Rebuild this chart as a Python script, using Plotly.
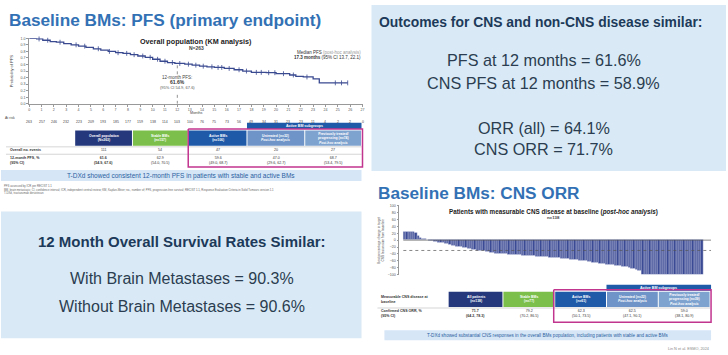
import bisect
import plotly.graph_objects as go

W, H = 728, 355
F = "Liberation Sans, Arial, sans-serif"


def X(px):
    return px / W


def Y(py):
    return 1 - py / H


# ---------------- data ----------------
# Kaplan-Meier PFS (overall population)
km_months = [0, 0.6, 1.1, 1.7, 2.2, 2.8, 3.4, 4.0, 4.6, 5.2, 5.8, 6.4, 7.0, 7.6, 8.2, 8.8, 9.4,
             10.0, 10.6, 11.2, 11.8, 12.6, 13.2, 13.8, 14.4, 15.0, 15.8, 16.6, 17.3, 18.0,
             19.2, 20.0, 21.1, 21.6, 22.2, 23.0, 23.5, 25.8]
km_surv = [1.0, 0.99, 0.97, 0.95, 0.94, 0.92, 0.90, 0.88, 0.86, 0.84, 0.82, 0.80, 0.78, 0.77,
           0.75, 0.73, 0.71, 0.68, 0.65, 0.63, 0.616, 0.605, 0.59, 0.575, 0.565, 0.555, 0.54,
           0.52, 0.50, 0.48, 0.475, 0.46, 0.44, 0.42, 0.41, 0.38, 0.32, 0.32]
censor_months = [0.8, 1.5, 2.5, 3.8, 4.5, 5.6, 6.5, 7.2, 7.9, 8.5, 9.2, 9.8, 10.4, 11.0, 11.6,
                 12.2, 12.9, 13.5, 14.1, 14.8, 15.3, 15.6, 16.2, 17.0, 17.6, 18.4, 18.8, 19.4,
                 19.9, 20.6, 21.4, 22.5, 24.8, 25.3, 25.8]
month_ticks = list(range(0, 28))
at_risk = [263, 257, 246, 232, 223, 209, 193, 185, 177, 159, 138, 114, 103, 100, 76, 75, 73,
           56, 49, 34, 31, 23, 23, 11, 4, 2, 2, 0]

# Waterfall: best % change in target CNS lesion size
cns_change = [26, 25, 25, 24, 24, 23,
              12, 8,
              4, 3, 2,
              -2, -3, -4, -5, -6, -7, -8, -9, -10,
              -13, -15, -16, -18, -19, -20, -22, -23, -24, -25,
              -27, -28, -30, -30, -31, -32, -33, -34, -35,
              -37, -38, -38, -39, -40, -40, -40, -41, -41, -42, -42, -43, -43,
              -44, -44, -45, -45, -46, -46, -47, -47, -48, -48, -49, -49, -50, -50, -50, -51,
              -52, -53, -54, -55, -55, -56, -57, -58, -58, -59, -60, -60, -61,
              -62, -63, -64, -65, -66, -67, -68, -69, -70, -70, -71, -72, -73, -74, -75, -76, -77, -78,
              -80, -82, -84, -86, -88, -90,
              -100, -100, -100, -100, -100, -100, -100, -100, -100, -100, -100, -100, -100, -100,
              -100, -100, -100, -100, -100, -100, -100, -100, -100, -100, -100, -100, -100]

# Tables
pfs_groups = ["Overall population<br>(N=263)", "Stable BMs<br>(n=157)", "Active BMs<br>(n=106)",
              "Untreated (n=32)<br><i>Post-hoc analysis</i>",
              "Previously treated/<br>progressing (n=74)<br><i>Post-hoc analysis</i>"]
pfs_events = ["111", "54", "47", "20", "27"]
pfs_12m = ["61.6<br>(54.9, 67.6)", "62.9<br>(54.0, 70.5)", "59.6<br>(49.0, 68.7)",
           "47.0<br>(29.6, 62.7)", "68.7<br>(53.4, 79.5)"]
orr_groups = ["All patients<br>(n=138)", "Stable BMs<br>(n=77)", "Active BMs<br>(n=61)",
              "Untreated (n=22)<br><i>Post-hoc analysis</i>",
              "Previously treated/<br>progressing (n=39)<br><i>Post-hoc analysis</i>"]
orr_values = ["71.7<br>(64.2, 78.3)", "79.2<br>(70.2, 86.5)", "62.3<br>(50.1, 73.5)",
              "62.5<br>(47.1, 90.1)", "59.0<br>(38.1, 80.9)"]
group_colors = ["#25387c", "#7cbf4a", "#1f5aa8", "#6f95c8", "#7fa3cf"]

outcome_lines = ["PFS at 12 months = 61.6%", "CNS PFS at 12 months = 58.9%",
                 "ORR (all) = 64.1%", "CNS ORR = 71.7%"]
os_lines = ["With Brain Metastases = 90.3%", "Without Brain Metastases = 90.6%"]

# ---------------- figure ----------------
fig = go.Figure()
ann = []


def rect(x0, y0, x1, y1, fill):
    # filled panel drawn on a full-page pixel axis (x3/y3)
    fig.add_trace(go.Scatter(x=[x0, x1, x1, x0, x0], y=[y0, y0, y1, y1, y0], mode="lines",
                             fill="toself", fillcolor=fill, line=dict(width=0, color=fill),
                             xaxis="x3", yaxis="y3", hoverinfo="skip"))


def frame(x0, y0, x1, y1, color, lw):
    fig.add_trace(go.Scatter(x=[x0, x1, x1, x0, x0], y=[y0, y0, y1, y1, y0], mode="lines",
                             line=dict(width=lw, color=color), xaxis="x3", yaxis="y3",
                             hoverinfo="skip", cliponaxis=False))


def hline(x0, x1, y, color="#bbbbbb", w=0.6):
    fig.add_trace(go.Scatter(x=[x0, x1], y=[y, y], mode="lines", line=dict(width=w, color=color),
                             xaxis="x3", yaxis="y3", hoverinfo="skip"))


def txt(px, py, s, size, color="#333333", xa="center", ya="middle", angle=0):
    ann.append(dict(x=X(px), y=Y(py), xref="paper", yref="paper", text=s, showarrow=False,
                    font=dict(size=size, color=color, family=F), xanchor=xa, yanchor=ya,
                    textangle=angle, borderpad=0, align="center" if xa == "center" else xa))


# background boxes
rect(372, 3, 728, 171, "#d9eaf6")
rect(0, 212, 362, 340, "#d9eaf6")

# titles
txt(7, 18, "<b>Baseline BMs: PFS (primary endpoint)</b>", 17.2, "#3371b5", xa="left")
txt(378, 193, "<b>Baseline BMs: CNS ORR</b>", 17.2, "#3371b5", xa="left")

# right-top box text
txt(379, 20, "<b>Outcomes for CNS and non-CNS disease similar:</b>", 13.9, "#1d3a5a", xa="left")
for line, py in zip(outcome_lines, [59, 82, 127, 149]):
    txt(545, py, line, 16.2, "#2b3d50")

# bottom-left box text
txt(182, 242, "<b>12 Month Overall Survival Rates Similar:</b>", 15, "#1d3a5a")
for line, py in zip(os_lines, [280, 308]):
    txt(182, py, line, 16, "#2b3d50")

# ---------- KM plot ----------
fig.add_trace(go.Scatter(x=km_months, y=km_surv, mode="lines", line=dict(shape="hv", color="#3a4a90", width=1.3),
                         xaxis="x", yaxis="y", cliponaxis=False, hoverinfo="skip"))


def surv_at(t):
    i = bisect.bisect_right(km_months, t) - 1
    return km_surv[max(i, 0)]


fig.add_trace(go.Scatter(x=censor_months, y=[surv_at(t) for t in censor_months], mode="markers",
                         marker=dict(symbol="line-ns-open", size=3.5, color="#3a4a90", line=dict(width=0.8, color="#3a4a90")),
                         xaxis="x", yaxis="y", cliponaxis=False, hoverinfo="skip"))

# 12-month dotted marker
for y_pair in ([0.45, surv_at(12)], [0.0, 0.17]):
    fig.add_trace(go.Scatter(x=[12, 12], y=y_pair, mode="lines", line=dict(color="#666666", width=0.7, dash="dot"),
                             xaxis="x", yaxis="y", hoverinfo="skip"))
txt(177, 76, "12-month PFS:", 4.5, "#444444")
txt(177, 81, "<b>61.6%</b>", 5, "#333333")
txt(177, 86, "(95% CI 54.9, 67.6)", 4, "#555555")

txt(196, 40, "<b>Overall population (KM analysis)</b>", 7.2, "#222222")
txt(196, 47, "<b>N=263</b>", 5, "#444444")
txt(362, 51, "Median PFS <span style='color:#999999'>(post-hoc analysis)</span>", 4.5, "#333333", xa="right")
txt(362, 56, "<b>17.3 months</b> (95% CI 13.7, 22.1)", 4.5, "#333333", xa="right")
txt(10, 70, "Probability of PFS", 4, "#444444", angle=-90)
txt(196, 112, "Months", 3.8, "#444444")
txt(3, 117, "At risk", 3.5, "#444444", xa="left")
for m, n in zip(month_ticks, at_risk):
    ann.append(dict(x=m, y=Y(117), xref="x", yref="paper", text=str(n), showarrow=False,
                    font=dict(size=3.5, color="#444444", family=F)))

# ---------- PFS table ----------
cols = [74, 132, 188, 247, 305, 362]
rect(247, 122, 362, 128.5, "#1f5aa8")
txt(304.5, 125.3, "<b>Active BM subgroups</b>", 3.6, "white")
for i, (g, c) in enumerate(zip(pfs_groups, group_colors)):
    rect(cols[i] + 0.5, 130, cols[i + 1] - 0.5, 145.5, c)
    txt((cols[i] + cols[i + 1]) / 2, 137.8, "<b>" + g + "</b>", 3.4, "white")
    txt((cols[i] + cols[i + 1]) / 2, 150, pfs_events[i], 3.6, "#333333")
    v = "<b>" + pfs_12m[i] + "</b>" if i == 0 else pfs_12m[i]
    txt((cols[i] + cols[i + 1]) / 2, 160, v, 3.6, "#333333")
hline(5, 362, 146.5)
hline(5, 362, 154)
txt(8, 150, "<b>Overall no. events</b>", 3.6, "#333333", xa="left")
txt(8, 160, "<b>12-month PFS, %<br>(95% CI)</b>", 3.6, "#333333", xa="left")
frame(188, 128.5, 363, 167, "#c2358f", 1.5)
rect(0, 170, 362, 181, "#d6e6f7")
txt(181, 175.5, "T-DXd showed consistent 12-month PFS in patients with stable and active BMs", 6.5, "#2b5fa0")
txt(2, 186.5, "PFS assessed by ICR per RECIST 1.1", 2.8, "#666666", xa="left")
txt(2, 190, "BM, brain metastasis; CI, confidence interval; ICR, independent central review; KM, Kaplan-Meier; no., number of; "
    "PFS, progression-free survival; RECIST 1.1, Response Evaluation Criteria in Solid Tumours version 1.1", 2.8, "#666666", xa="left")
txt(2, 193.5, "T-DXd, trastuzumab deruxtecan", 2.8, "#666666", xa="left")

# ---------- waterfall ----------
fig.add_trace(go.Bar(x=list(range(len(cns_change))), y=cns_change, xaxis="x2", yaxis="y2",
                     marker=dict(color="#3b4a94", line=dict(color="#e6e8f2", width=0.35)),
                     hoverinfo="skip"))
n_bars = len(cns_change)
fig.add_trace(go.Scatter(x=[-0.5, n_bars + 3], y=[0, 0], mode="lines", line=dict(color="#555555", width=0.7),
                         xaxis="x2", yaxis="y2", hoverinfo="skip"))
fig.add_trace(go.Scatter(x=[-0.5, n_bars + 3], y=[-30, -30], mode="lines",
                         line=dict(color="#555555", width=0.7, dash="dot"),
                         xaxis="x2", yaxis="y2", hoverinfo="skip"))
txt(555, 212, "<b>Patients with measurable CNS disease at baseline (<i>post-hoc analysis</i>)</b>", 6.3, "#222222")
txt(555, 218, "<b>n=138</b>", 4.3, "#444444")
txt(382, 241, "Best percentage change in target<br>CNS lesion size from baseline", 3.2, "#444444", angle=-90)

# ---------- ORR table ----------
ocols = [449, 504, 556, 608, 660, 712]
rect(608, 286, 713, 292, "#1f5aa8")
txt(660.5, 289, "<b>Active BM subgroups</b>", 3.6, "white")
for i, (g, c) in enumerate(zip(orr_groups, group_colors)):
    rect(ocols[i] + 0.5, 293, ocols[i + 1] - 0.5, 308.5, c)
    txt((ocols[i] + ocols[i + 1]) / 2, 300.8, "<b>" + g + "</b>", 3.4, "white")
    v = "<b>" + orr_values[i] + "</b>" if i == 0 else orr_values[i]
    txt((ocols[i] + ocols[i + 1]) / 2, 315.5, v, 3.6, "#333333")
hline(378, 712, 309.5)
txt(381, 300.5, "<b>Measurable CNS disease at<br>baseline</b>", 3.6, "#333333", xa="left")
txt(381, 315.5, "<b>Confirmed CNS ORR, %<br>(95% CI)</b>", 3.6, "#333333", xa="left")
frame(555, 291, 713, 324, "#c2358f", 1.5)
rect(385, 332, 713, 342, "#d6e6f7")
txt(549, 337, "T-DXd showed substantial CNS responses in the overall BMs population, including patients with stable and active BMs",
    4.6, "#2b5fa0")
txt(712, 351, "Lin N et al. ESMO, 2024", 3.8, "#888888", xa="right")

tickfont = dict(size=3.6, color="#555555", family=F)
fig.update_layout(
    width=W, height=H, margin=dict(l=0, r=0, t=0, b=0),
    paper_bgcolor="white", plot_bgcolor="rgba(0,0,0,0)", showlegend=False, bargap=0,
    font=dict(family=F),
    xaxis=dict(domain=[X(28.3), X(363)], range=[0, 27], tickmode="array", tickvals=month_ticks,
               showline=True, linecolor="#999999", linewidth=0.7, ticks="outside", ticklen=2,
               tickcolor="#999999", tickwidth=0.6, tickfont=tickfont, showgrid=False, zeroline=False),
    yaxis=dict(domain=[Y(103), Y(36.7)], range=[0, 1.0], tickmode="array",
               tickvals=[i / 10 for i in range(11)], ticktext=[f"{i / 10:.1f}" for i in range(11)],
               showline=True, linecolor="#999999", linewidth=0.7, ticks="outside", ticklen=2,
               tickcolor="#999999", tickwidth=0.6, tickfont=tickfont, showgrid=False, zeroline=False),
    xaxis2=dict(domain=[X(400), X(713)], range=[-2.25, 135.0], visible=False),
    yaxis2=dict(domain=[Y(275.7), Y(206)], range=[-100, 100], tickmode="array",
                tickvals=list(range(-100, 101, 20)), showline=True, linecolor="#999999", linewidth=0.7,
                ticks="outside", ticklen=2, tickcolor="#999999", tickwidth=0.6, tickfont=tickfont,
                showgrid=False, zeroline=False, anchor="x2", position=X(400)),
    xaxis3=dict(domain=[0, 1], range=[0, W], visible=False, fixedrange=True),
    yaxis3=dict(domain=[0, 1], range=[H, 0], visible=False, fixedrange=True, anchor="x3"),
    annotations=ann,
)
fig.write_html("out.html", config={"displayModeBar": False},
               post_script="document.body.style.margin='0px';document.body.style.overflow='hidden';")
